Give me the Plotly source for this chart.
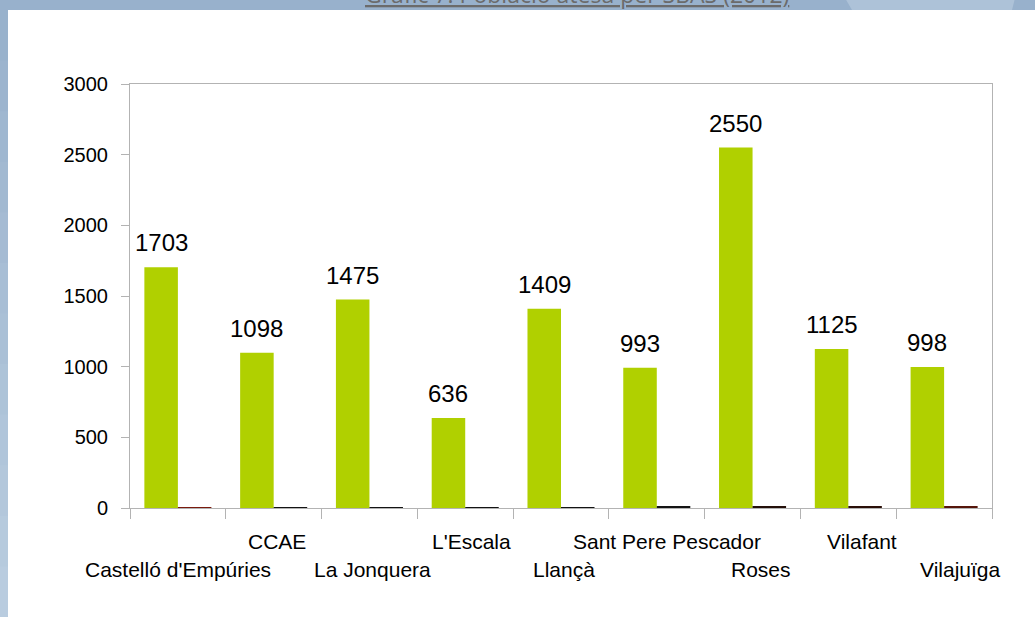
import plotly.graph_objects as go

categories = ["Castelló d'Empúries", "CCAE", "La Jonquera", "L'Escala", "Llançà",
              "Sant Pere Pescador", "Roses", "Vilafant", "Vilajuïga"]
poblacio = [1703, 1098, 1475, 636, 1409, 993, 2550, 1125, 998]
serie2 = [5, 6, 6, 7, 7, 8, 9, 10, 11]
serie2_colors = ["#7a1a0e", "#141414", "#141414", "#141414", "#141414",
                 "#141414", "#24100a", "#2a0f08", "#55150a"]
title_text = "Gràfic 7: Població atesa per SBAS (2012)"

# layout tweak: horizontal nudge of each category label (pixels)
label_nudge = [0, 3, 3.5, 6, 2.5, 10, 8.5, 14, 16]

W, H = 1035, 617
L, R, T, B = 130, 43, 84, 109
PW, PH = W - L - R, H - T - B

def px(xp):
    return (xp - L) / PW

def py(yp):
    return (H - B - yp) / PH

fig = go.Figure()
fig.add_trace(go.Bar(x=categories, y=poblacio, marker=dict(color="#b0d000", line=dict(width=0)),
                     hoverinfo="skip", showlegend=False))
fig.add_trace(go.Bar(x=categories, y=serie2, marker=dict(color=serie2_colors, line=dict(width=0)),
                     hoverinfo="skip", showlegend=False))

bar_px = PW / len(categories) * 0.7 / 2
annotations = []
for c, v in zip(categories, poblacio):
    annotations.append(dict(x=c, y=v, xref="x", yref="y", text=str(v), showarrow=False,
                            xanchor="center", yanchor="bottom", xshift=-bar_px / 2, yshift=9,
                            font=dict(family="Liberation Sans, Arial", size=24, color="#000000")))
for i, c in enumerate(categories):
    ypix = 569 if i % 2 == 0 else 541
    annotations.append(dict(x=c, y=py(ypix), xref="x", yref="paper", text=c, showarrow=False,
                            xanchor="center", yanchor="middle", xshift=label_nudge[i],
                            font=dict(family="Liberation Sans, Arial", size=21, color="#000000")))
annotations.append(dict(x=px(577), y=py(12), xref="paper", yref="paper",
                        text="<u>" + title_text + "</u>", showarrow=False,
                        xanchor="center", yanchor="bottom",
                        font=dict(family="Open Sans, DejaVu Sans", size=23, color="#6b6b6b")))

shapes = []
# white panel
shapes.append(dict(type="rect", xref="paper", yref="paper", x0=px(8), x1=px(W + 5),
                   y0=py(H + 5), y1=py(10), fillcolor="#ffffff", line=dict(width=0), layer="below"))
# lighter band in the top strip
shapes.append(dict(type="path", xref="paper", yref="paper",
                   path="M %f %f L %f %f L %f %f L %f %f Z" % (px(845), py(-2), px(1015), py(-2),
                                                              px(1012), py(10), px(852), py(10)),
                   fillcolor="#adc2d8", line=dict(width=0), layer="below"))
# left band gradient
n = 12
for k in range(n):
    y0p = 10 + (H - 10) * k / n
    y1p = 10 + (H - 10) * (k + 1) / n + 1
    t = (k + 0.5) / n
    r = int(0x98 + (0xbb - 0x98) * t)
    g = int(0xb1 + (0xce - 0xb1) * t)
    b = int(0xcc + (0xe0 - 0xcc) * t)
    shapes.append(dict(type="rect", xref="paper", yref="paper", x0=px(-5), x1=px(8),
                       y0=py(y1p), y1=py(y0p), fillcolor="rgb(%d,%d,%d)" % (r, g, b),
                       line=dict(width=0), layer="below"))

fig.update_layout(
    width=W, height=H,
    margin=dict(l=L, r=R, t=T, b=B, pad=0),
    paper_bgcolor="#98b1cc", plot_bgcolor="rgba(0,0,0,0)",
    barmode="group", bargap=0.3, bargroupgap=0,
    annotations=annotations, shapes=shapes,
    xaxis=dict(type="category", range=[-0.5, len(categories) - 0.5], tickson="boundaries",
               ticks="outside", ticklen=10, tickcolor="#b3b3b3", showticklabels=False,
               showline=True, linecolor="#b3b3b3", linewidth=1, mirror=True, showgrid=False,
               zeroline=False, fixedrange=True),
    yaxis=dict(range=[0, 3000], dtick=500, ticks="outside", ticklen=8, tickcolor="#b3b3b3",
               showline=True, linecolor="#b3b3b3", linewidth=1, mirror=True, showgrid=False,
               zeroline=False, tickfont=dict(family="Liberation Sans, Arial", size=20, color="#000000"),
               ticklabelstandoff=9, fixedrange=True),
    font=dict(family="Liberation Sans, Arial"),
)

fig.write_html("out.html", config={"displayModeBar": False},
               post_script="document.body.style.margin='0';document.body.style.overflow='hidden';")
